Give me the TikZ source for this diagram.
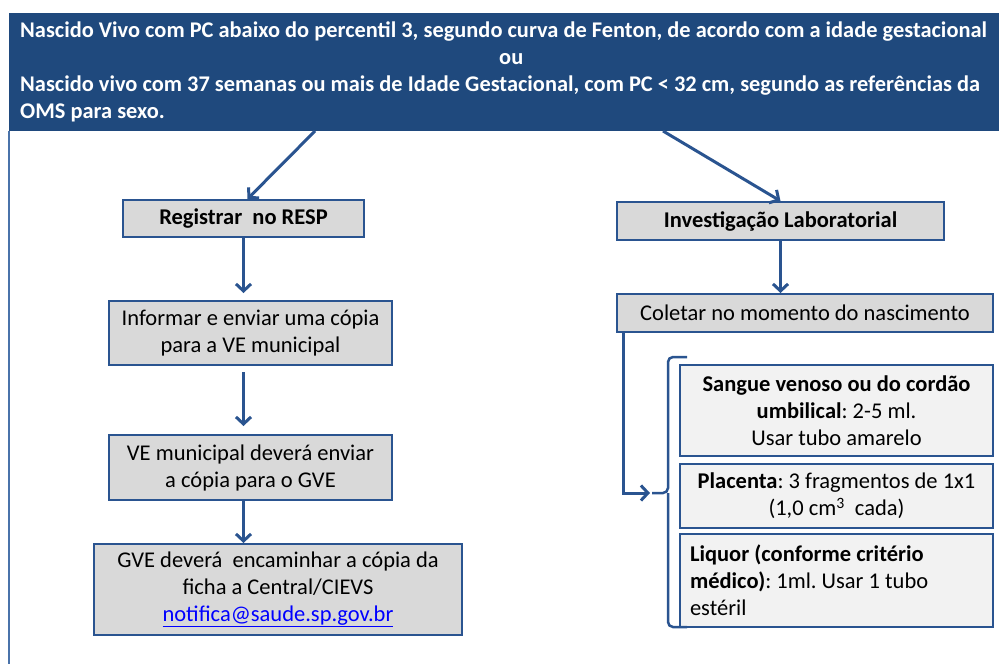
\documentclass[tikz,border=0pt]{standalone}
\usepackage{fontspec}
\setmainfont{Carlito}
\frenchspacing
\usetikzlibrary{arrows.meta}
\usetikzlibrary{positioning}
\definecolor{headblue}{HTML}{1F497D}
\definecolor{lineblue}{HTML}{2A5490}
\definecolor{frameblue}{HTML}{4A73AA}
\definecolor{boxgray}{HTML}{D9D9D9}
\definecolor{samplegray}{HTML}{F2F2F2}
\definecolor{linkblue}{HTML}{0000FF}
\newcommand{\BoxFont}{\fontsize{22.5}{27}\selectfont}

\begin{document}
\begin{tikzpicture}[x=1pt, y=-1pt,
  stepbox/.style={draw=lineblue, line width=2pt, fill=boxgray, anchor=north west,
                  inner sep=0pt, font=\BoxFont, align=center},
  samplebox/.style={stepbox, fill=samplegray},
  flow/.style={draw=lineblue, line width=3pt, -{Straight Barb[length=7pt,width=15pt]}},
  brace/.style={draw=lineblue, line width=2.5pt, rounded corners=5pt}]
%\draw [help lines] (0,0) grid[step=50] (999,664);
\useasboundingbox (0,0) rectangle (999,664);

\node[fill=headblue, anchor=north west, inner xsep=11pt, inner ysep=0pt,
      minimum height=118, text width=1000, align=flush left, text=white,
      font=\bfseries\fontsize{22.4}{27}\selectfont] (head) at (9,13)
  {Nascido Vivo com PC abaixo do percentil 3, segundo curva de Fenton, de acordo com a idade gestacional\\
   \hspace*{479pt}ou\\
   Nascido vivo com 37 semanas ou mais de Idade Gestacional, com PC < 32 cm, segundo as referências da\\
   OMS para sexo.};
\draw[frameblue, line width=1.5pt] (head.south west) -- ++(0,533);

% left column
\node[stepbox, minimum width=241, minimum height=37] (reg) at (122,199) {\bfseries Registrar\ \ no RESP};
\node[stepbox, minimum width=283, minimum height=64] (inf) at (108,300) {Informar e enviar uma cópia\\ para a VE municipal};
\node[stepbox, minimum width=283, minimum height=65] (ve)  at (108,434) {VE municipal deverá enviar\\ a cópia para o GVE};
\node[stepbox, minimum width=368, minimum height=91] (gve) at (93,543)
  {GVE deverá\ \ encaminhar a cópia da\\ ficha a Central/CIEVS\\ \textcolor{linkblue}{\underline{notifica@saude.sp.gov.br}}};

% right column
\node[stepbox, minimum width=327, minimum height=38] (inv) at (616,201) {\bfseries Investigação Laboratorial};
\node[stepbox, minimum width=376, minimum height=38] (col) at (616,293) {Coletar no momento do nascimento};
\node[samplebox, minimum width=313, minimum height=91] (s1) at (679,364)
  {\textbf{Sangue venoso ou do cordão}\\ \textbf{umbilical}: 2-5 ml.\\ Usar tubo amarelo};
\node[samplebox, minimum width=313, minimum height=64] (s2) at (679,463)
  {\textbf{Placenta}: 3 fragmentos de 1x1\\ (1,0 cm\textsuperscript{3}\ \ cada)};
\node[samplebox, minimum width=313, minimum height=93, text width=293, inner xsep=10pt, align=flush left] (s3) at (679,533)
  {\textbf{Liquor (conforme critério}\\ \textbf{médico)}: 1ml. Usar 1 tubo\\ estéril};

\coordinate (hl) at (315,131);
\coordinate (hr) at (663,131);
\coordinate (bt) at (652,493);

% Edges
\draw[flow] (hl) -- ([xshift=4]reg.north);
\draw[flow, shorten >=7pt] (reg.south) -- (reg.south |- inf.north);
\draw[flow, shorten <=6pt, shorten >=8pt] (inf.south -| reg.south) -- (ve.north -| reg.south);
\draw[flow] (ve.south -| reg.south) -- (gve.north -| reg.south);
\draw[flow] (hr) -- (inv.north);
\draw[flow] (inv.south) -- (inv.south |- col.north);
\draw[flow, shorten >=2pt] ([xshift=7]col.south west) |- (bt);

\draw[brace] (687,357) -- (668,357) -- (668,493) -- (bt);
\draw[brace] (668,493) -- (668,627) -- (687,627);

\end{tikzpicture}
\end{document}
